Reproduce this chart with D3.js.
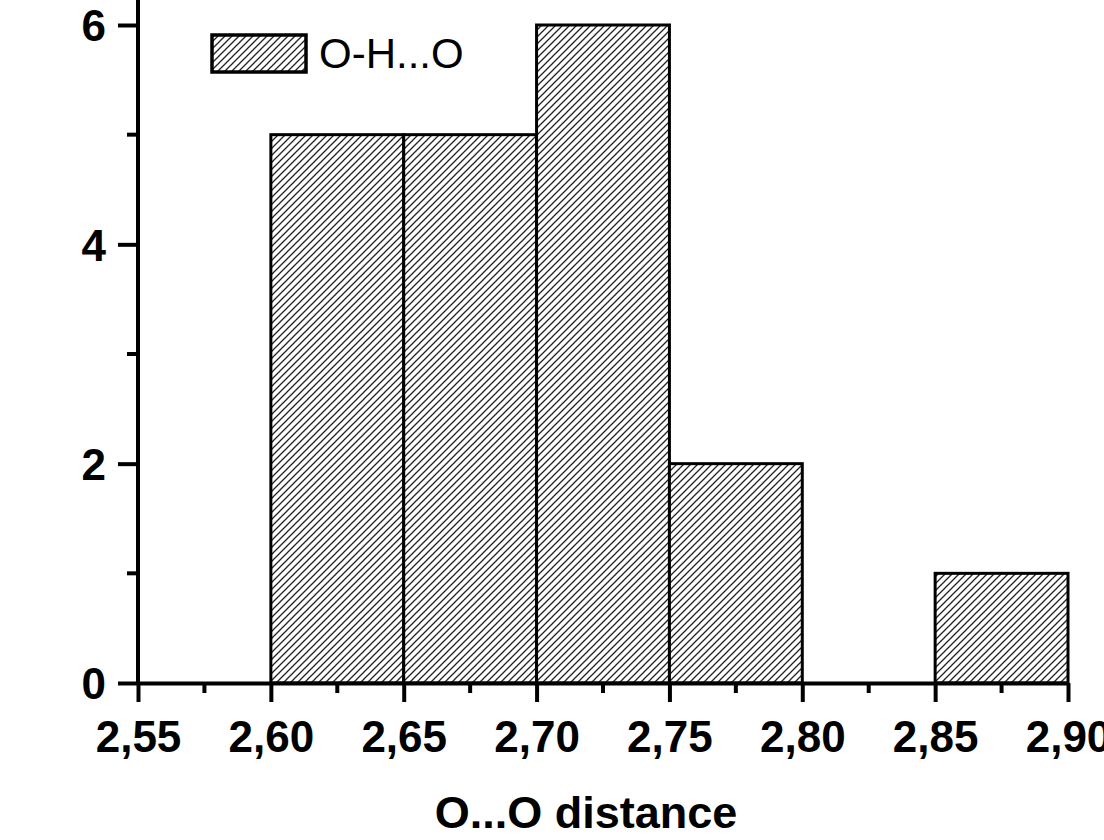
<!DOCTYPE html>
<html>
<head>
<meta charset="utf-8">
<script src="https://cdn.jsdelivr.net/npm/d3@7"></script>
<style>
  html, body { margin: 0; padding: 0; background: #fff; overflow: hidden; }
  svg { display: block; font-family: "Liberation Sans", Arial, sans-serif; }
</style>
</head>
<body>
<div id="plot"></div>
<script>
const CANVAS_WIDTH  = 1104;
const CANVAS_HEIGHT = 840;

// histogram bins (O...O distance) and counts
var binStarts = [2.60, 2.65, 2.70, 2.75, 2.80, 2.85];
var binEnds   = [2.65, 2.70, 2.75, 2.80, 2.85, 2.90];
var counts    = [5, 5, 6, 2, 0, 1];

var xTicks      = [2.55, 2.60, 2.65, 2.70, 2.75, 2.80, 2.85, 2.90];
var xMinorTicks = [2.575, 2.625, 2.675, 2.725, 2.775, 2.825, 2.875];
var yTicks      = [0, 2, 4, 6];
var yMinorTicks = [1, 3, 5];

var seriesName = "O-H...O";
var xTitle     = "O...O distance";

var svg = d3.select("#plot")
    .append("svg")
    .attr("width", CANVAS_WIDTH)
    .attr("height", CANVAS_HEIGHT);

var xScale = d3.scaleLinear().domain([2.55, 2.90]).range([138, 1068]);
var yScale = d3.scaleLinear().domain([0, 6]).range([683, 25]);

var commaFmt = d3.formatLocale({ decimal: ",", thousands: ".", grouping: [3], currency: ["", ""] }).format(".2f");

// hatch pattern
var defs = svg.append("defs");
var pat = defs.append("pattern")
    .attr("id", "hatch")
    .attr("patternUnits", "userSpaceOnUse")
    .attr("width", 7)
    .attr("height", 7);
pat.append("rect").attr("width", 7).attr("height", 7).attr("fill", "#fff");
pat.append("path")
    .attr("d", "M-1,8 L8,-1 M-4.5,4.5 L4.5,-4.5 M2.5,11.5 L11.5,2.5")
    .attr("stroke", "#222")
    .attr("stroke-width", 1.3);

// bars
var bins = counts.map(function(c, i) { return { x0: binStarts[i], x1: binEnds[i], n: c }; })
                 .filter(function(d) { return d.n > 0; });

svg.selectAll("rect.bar")
    .data(bins)
    .enter()
    .append("rect")
    .attr("class", "bar")
    .attr("x", function(d) { return xScale(d.x0); })
    .attr("y", function(d) { return yScale(d.n); })
    .attr("width", function(d) { return xScale(d.x1) - xScale(d.x0); })
    .attr("height", function(d) { return yScale(0) - yScale(d.n); })
    .attr("fill", "url(#hatch)")
    .attr("stroke", "#000")
    .attr("stroke-width", 3);

// x axis
var xAxis = d3.axisBottom(xScale)
    .tickValues(xTicks)
    .tickSize(19)
    .tickSizeOuter(0)
    .tickPadding(19)
    .tickFormat(commaFmt);

var gx = svg.append("g")
    .attr("transform", "translate(0," + yScale(0) + ")")
    .call(xAxis);

gx.selectAll(".tick line").attr("stroke", "#000").attr("stroke-width", 4);
gx.select(".domain").attr("stroke", "#000").attr("stroke-width", 4);
gx.selectAll(".tick text")
    .attr("fill", "#000")
    .style("font-size", "44px")
    .style("font-weight", "bold")
    .style("font-family", "'Liberation Sans', Arial, sans-serif");

gx.selectAll("line.minor")
    .data(xMinorTicks)
    .enter()
    .append("line")
    .attr("class", "minor")
    .attr("x1", function(d) { return xScale(d); })
    .attr("x2", function(d) { return xScale(d); })
    .attr("y1", 0)
    .attr("y2", 10)
    .attr("stroke", "#000")
    .attr("stroke-width", 4);

// y axis
var yAxis = d3.axisLeft(yScale)
    .tickValues(yTicks)
    .tickSize(20)
    .tickSizeOuter(0)
    .tickPadding(12)
    .tickFormat(d3.format("d"));

var gy = svg.append("g")
    .attr("transform", "translate(" + xScale(2.55) + ",0)")
    .call(yAxis);

gy.select(".domain")
    .attr("d", "M0," + yScale(0) + "V" + yScale(6.35))
    .attr("stroke", "#000")
    .attr("stroke-width", 4);
gy.selectAll(".tick line").attr("stroke", "#000").attr("stroke-width", 4);
gy.selectAll(".tick text")
    .attr("fill", "#000")
    .attr("dy", "0.36em")
    .style("font-size", "44px")
    .style("font-weight", "bold")
    .style("font-family", "'Liberation Sans', Arial, sans-serif");

gy.selectAll("line.minor")
    .data(yMinorTicks)
    .enter()
    .append("line")
    .attr("class", "minor")
    .attr("x1", -11)
    .attr("x2", 0)
    .attr("y1", function(d) { return yScale(d); })
    .attr("y2", function(d) { return yScale(d); })
    .attr("stroke", "#000")
    .attr("stroke-width", 4);

// x axis title
svg.append("text")
    .attr("x", 586)
    .attr("y", 828)
    .attr("text-anchor", "middle")
    .style("font-size", "45px")
    .style("font-weight", "bold")
    .text(xTitle);

// legend
var legend = svg.append("g").attr("transform", "translate(212,35)");
legend.append("rect")
    .attr("width", 94)
    .attr("height", 37)
    .attr("fill", "url(#hatch)")
    .attr("stroke", "#000")
    .attr("stroke-width", 3.5);
legend.append("text")
    .attr("x", 107)
    .attr("y", 33)
    .style("font-size", "42px")
    .text(seriesName);
</script>
</body>
</html>
